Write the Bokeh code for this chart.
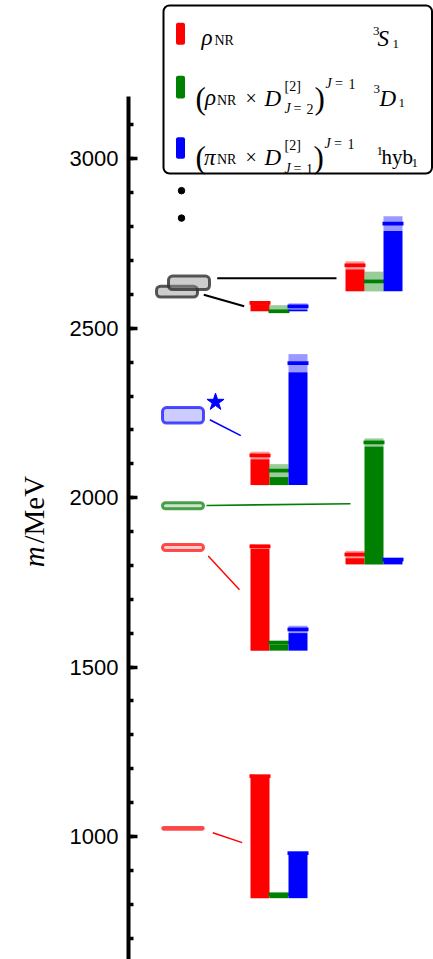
import math
from bokeh.plotting import figure
from bokeh.layouts import row
from bokeh.models import Range1d, SingleIntervalTicker, ColumnDataSource
from bokeh.core.properties import value
from bokeh.embed import file_html
from bokeh.resources import INLINE

# ---------------- data ----------------
level_mass = [1024, 1853, 1976, 2243, 2608, 2634]      # MeV
level_err = [3, 9, 9, 23, 16, 20]                      # MeV
higher_mass = [2825, 2906]                             # MeV (further states)
# normalised overlaps per operator for each level
z_rho = [1.0, 0.854, 0.081, 0.243, 0.069, 0.213]
z_rho_err = [0.01, 0.02, 0.03, 0.031, 0.01, 0.033]
z_rhoD = [0.032, 0.066, 1.0, 0.119, 0.0, 0.081]
z_rhoD_err = [0.01, 0.015, 0.033, 0.053, 0.05, 0.08]
z_piD = [0.369, 0.174, 0.04, 1.0, 0.04, 0.555]
z_piD_err = [0.01, 0.03, 0.01, 0.074, 0.025, 0.061]
tick_interval = 500

# ---------------- layout ----------------
W, H = 433, 959
LW = 60                           # width of the strip holding the axis title
AX_X = 128
Y_TOP, Y_BOT = 3467.2, 637.0
PX = H / (Y_TOP - Y_BOT)          # px per MeV


def Y(py):
    return Y_TOP - py / PX


def D(px):
    return px / PX


BAR_SCALE = 360.0                 # MeV drawn per unit overlap
BAR_W = 19
op_colors = ["#ff0000", "#008000", "#0000ff"]
level_line = ["#ff2020", "#ff2020", "#208a20", "#2020ff", "#303030", "#303030"]
level_fill = ["#ff0000", "#ff0000", "#008000", "#0000ff", "#909090", "#909090"]
box_x = [(162, 203), (162, 203), (162, 203), (162, 203), (156, 197), (168, 209)]
group_x = [250, 250, 345, 250, 250, 345]
group_base = [818, 1548.5, 1803, 2037, 2550, 2609]
# connectors: level index, x0, dy0, x1, dy1, colour, width
connectors = [
    (0, 212.3, -13, 241.7, -42, "#ff0000", 1.4),
    (1, 207.7, -25, 239.0, -125, "#ff0000", 1.4),
    (2, 206.0, 1, 350.0, 6, "#008000", 1.6),
    (3, 209.3, -13, 240.3, -60, "#0000ff", 1.6),
    (4, 203.3, -9, 243.7, -43, "#000000", 2.0),
    (5, 216.7, 13.6, 336.0, 13.6, "#000000", 2.0),
]

# strip with the vertical axis title
q = figure(width=LW, height=H, x_range=Range1d(0, LW), y_range=Range1d(Y_BOT, Y_TOP),
           output_backend="svg", toolbar_location=None, x_axis_location=None,
           y_axis_location=None, min_border=0)
q.grid.visible = False
q.outline_line_color = None
q.text(x=[33], y=[Y(566.7)], text=["m"], angle=math.pi / 2, text_font=value("Liberation Serif"),
       text_font_style="italic", text_font_size=value("29px"), text_color="black",
       text_align="left", text_baseline="middle")
q.text(x=[33], y=[Y(543)], text=["/MeV"], angle=math.pi / 2, text_font=value("Liberation Serif"),
       text_font_size=value("29px"), text_color="black",
       text_align="left", text_baseline="middle")

p = figure(width=W - LW, height=H, x_range=Range1d(AX_X, W), y_range=Range1d(Y_BOT, Y_TOP),
           output_backend="svg", toolbar_location=None, x_axis_location=None,
           y_axis_location="left", min_border=0, min_border_left=AX_X - LW)
p.grid.visible = False
p.outline_line_color = None
p.background_fill_color = "white"

ax = p.yaxis[0]
ax.ticker = SingleIntervalTicker(interval=tick_interval, num_minor_ticks=5)
ax.bounds = (600, 3184)
ax.axis_line_width = 4
ax.axis_line_color = "black"
ax.major_tick_in = 9
ax.major_tick_out = 0
ax.minor_tick_in = 5
ax.minor_tick_out = 0
ax.major_tick_line_width = 3.5
ax.minor_tick_line_width = 3.5
ax.major_label_text_font = "Liberation Sans"
ax.major_label_text_font_size = "22px"
ax.major_label_text_color = "black"
ax.major_label_standoff = 10

# ---------------- level boxes ----------------
for i, m in enumerate(level_mass):
    e = level_err[i]
    p.quad(left=[box_x[i][0]], right=[box_x[i][1]], bottom=[m - e], top=[m + e],
           fill_color=level_fill[i], fill_alpha=0.2 if i < 4 else 0.45,
           line_color=level_line[i], line_alpha=0.8, line_width=3 if i > 0 else 2.5,
           border_radius=4)

p.scatter(x=[181] * len(higher_mass), y=higher_mass, size=6.5, color="black")
p.scatter(x=[215], y=[level_mass[3] + 39], marker="star", size=18,
          fill_color="#0000ff", line_color="#0000ff")

# connectors
p.segment(x0=[c[1] for c in connectors], y0=[level_mass[c[0]] + c[2] for c in connectors],
          x1=[c[3] for c in connectors], y1=[level_mass[c[0]] + c[4] for c in connectors],
          line_color=[c[5] for c in connectors], line_width=[c[6] for c in connectors])

# ---------------- overlap bars ----------------
vals = [z_rho, z_rhoD, z_piD]
errs = [z_rho_err, z_rhoD_err, z_piD_err]
cap_h = D(3.7)
for k in range(3):
    L, R, sb, st, bb, bt, cb, ct = [], [], [], [], [], [], [], []
    for i in range(len(level_mass)):
        x0 = group_x[i] + k * BAR_W
        base = group_base[i]
        v, e = vals[k][i], errs[k][i]
        lo = max(v - e, 0.0)
        L.append(x0); R.append(x0 + BAR_W)
        sb.append(base); st.append(base + lo * BAR_SCALE)
        bb.append(base + lo * BAR_SCALE); bt.append(base + (v + e) * BAR_SCALE)
        cb.append(base + v * BAR_SCALE - cap_h / 2); ct.append(base + v * BAR_SCALE + cap_h / 2)
    p.quad(left=L, right=R, bottom=sb, top=st, fill_color=op_colors[k], line_color=None)
    p.quad(left=L, right=R, bottom=bb, top=bt, fill_color=op_colors[k], fill_alpha=0.4,
           line_color=None)
    p.quad(left=[l - 1 for l in L], right=[r + 1 for r in R], bottom=cb, top=ct,
           fill_color=op_colors[k], line_color=None)

# ---------------- legend ----------------
p.quad(left=[163], right=[431.5], top=[Y(5)], bottom=[Y(173)], fill_color="white",
       line_color="black", line_width=2, border_radius=6)
sw = [(22.3, 44.3), (75.3, 98.0), (136.7, 158.3)]
p.quad(left=[175.5] * 3, right=[184.5] * 3, top=[Y(a) for a, b in sw],
       bottom=[Y(b) for a, b in sw], fill_color=op_colors, line_color=None, border_radius=2)

frags = [
    # row 1
    ("ρ", 201, 37, 23, "italic"), ("NR", 214, 40, 14, "normal"),
    ("3", 372.5, 30, 13, "normal"), ("S", 377, 38, 23, "italic"), ("1", 392, 43, 13, "normal"),
    # row 2
    ("(", 195, 97.5, 31, "normal"), ("ρ", 204.5, 97, 23, "italic"), ("NR", 216.5, 99.5, 14, "normal"),
    ("×", 245, 97, 20, "normal"), ("D", 264, 97.5, 23, "italic"), ("[2]", 284, 86, 14, "normal"),
    ("J", 284, 108, 14, "italic"), ("=", 293, 108, 14, "normal"), ("2", 306, 108, 14, "normal"),
    (")", 314, 97.5, 31, "normal"),
    ("J", 325, 83, 14, "italic"), ("=", 334.5, 83, 14, "normal"), ("1", 348, 83, 14, "normal"),
    ("3", 373, 88.7, 13, "normal"), ("D", 379, 97.5, 23, "italic"), ("1", 398, 102, 13, "normal"),
    # row 3
    ("(", 195, 156.5, 31, "normal"), ("π", 203.5, 156.5, 23, "italic"), ("NR", 216.5, 159, 14, "normal"),
    ("×", 245, 156, 20, "normal"), ("D", 264, 156.5, 23, "italic"), ("[2]", 284, 145, 14, "normal"),
    ("J", 284, 168, 14, "italic"), ("=", 293, 168, 14, "normal"), ("1", 305.5, 168, 14, "normal"),
    (")", 313, 156.5, 31, "normal"),
    ("J", 324, 143, 14, "italic"), ("=", 333.5, 143, 14, "normal"), ("1", 347, 143, 14, "normal"),
    ("1", 376, 150.7, 13, "normal"), ("hyb", 381, 156.5, 21, "normal"), ("1", 411, 162.5, 13, "normal"),
]
groups = {}
for t, x, by, s, st in frags:
    groups.setdefault((s, st), []).append((t, x, Y(by)))
for (s, st), items in groups.items():
    src = ColumnDataSource(dict(x=[a[1] for a in items], y=[a[2] for a in items],
                                text=[a[0] for a in items]))
    p.text(x="x", y="y", text="text", source=src, text_font=value("Liberation Serif"),
           text_font_size=value(f"{s}px"), text_font_style=value(st), text_color="black",
           text_align="left", text_baseline="alphabetic")

layout = row(q, p, spacing=0)
open("out.html", "w").write(file_html(layout, INLINE))
